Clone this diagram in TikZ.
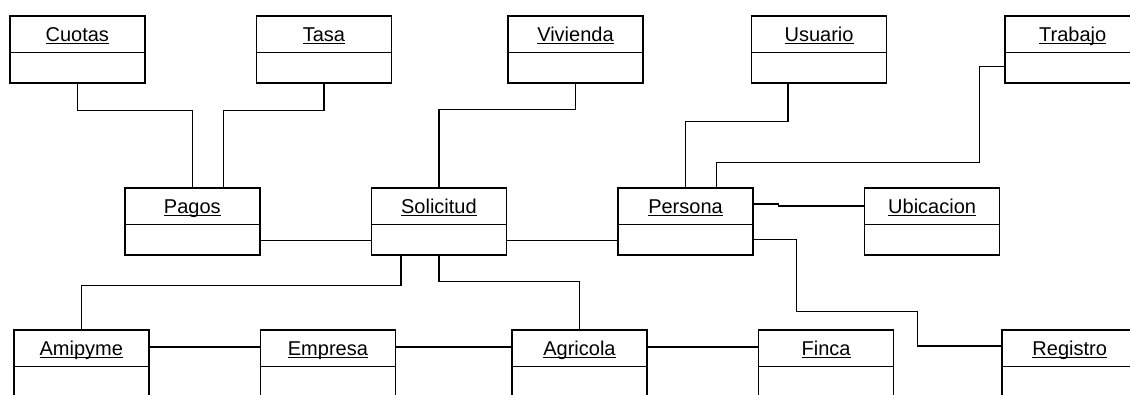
\documentclass[tikz,border=0pt]{standalone}
\usepackage{fontspec}
\setmainfont{Liberation Sans}
\usetikzlibrary{positioning,shapes.multipart}

\newcommand{\ulname}[1]{\setbox0\hbox{#1}\rlap{\rule[-2.8pt]{\wd0}{1pt}}\box0}
\newcommand{\ent}[1]{\rule[-10.5pt]{0pt}{35pt}\ulname{#1}\nodepart{two}\rule{0pt}{29pt}}

\begin{document}
\begin{tikzpicture}[
  x=1pt,y=1pt,
  node distance=10mm and 110pt,
  cls/.style={draw,line width=1.6pt,rectangle split,rectangle split parts=2,minimum width=135pt,inner ysep=0pt,font=\fontsize{20}{22}\selectfont},
  link/.style={line width=1.3pt}
]
\clip (0,0) rectangle (1130,-394);
% top row
\node[cls,anchor=north west] (cuotas) at (9,-15) {\ent{Cuotas}};
\node[cls,right=of cuotas] (tasa) {\ent{Tasa}};
\node[cls,right=115pt of tasa] (vivienda) {\ent{Vivienda}};
\node[cls,right=107pt of vivienda] (usuario) {\ent{Usuario}};
\node[cls,right=117pt of usuario] (trabajo) {\ent{Trabajo}};
% middle row
\node[cls,anchor=north west] (pagos) at (124,-187) {\ent{Pagos}};
\node[cls,right=of pagos] (solicitud) {\ent{Solicitud}};
\node[cls,right=of solicitud] (persona) {\ent{Persona}};
\node[cls,right=of persona] (ubicacion) {\ent{Ubicacion}};
% bottom row
\node[cls,anchor=north west] (amipyme) at (13,-329) {\ent{Amipyme}};
\node[cls,right=of amipyme] (empresa) {\ent{Empresa}};
\node[cls,right=115pt of empresa] (agricola) {\ent{Agricola}};
\node[cls,right=of agricola] (finca) {\ent{Finca}};
\node[cls,right=107pt of finca] (registro) {\ent{Registro}};

\draw[link] (cuotas.south) -- ++(0,-27) -| (pagos.north);
\draw[link] (tasa.south) -- ++(0,-27) -| ([xshift=31pt]pagos.north);
\draw[link] (vivienda.south) -- ++(0,-26) -| (solicitud.north);
\draw[link] ([xshift=-31pt]usuario.south) -- ++(0,-38) -| (persona.north);
\draw[link] ([yshift=17pt]trabajo.south west) -- ++(-25,0) -- ++(0,-96) -| ([xshift=31pt]persona.north);
\draw[link] ([yshift=15pt]pagos.south east) -- ([yshift=15pt]solicitud.south west);
\draw[link] ([yshift=15pt]solicitud.south east) -- ([yshift=15pt]persona.south west);
\draw[link] ([yshift=-17pt]persona.north east) -- ++(25,0) |- ([yshift=-19pt]ubicacion.north west);
\draw[link] ([yshift=16pt]persona.south east) -- ++(43,0) |- ++(121,-72) |- ([yshift=-17pt]registro.north west);
\draw[link] ([xshift=-38pt]solicitud.south) -- ++(0,-30) -| (amipyme.north);
\draw[link] (solicitud.south) -- ++(0,-26) -| (agricola.north);
\draw[link] ([yshift=-18pt]amipyme.north east) -- ([yshift=-18pt]empresa.north west);
\draw[link] ([yshift=-18pt]empresa.north east) -- ([yshift=-18pt]agricola.north west);
\draw[link] ([yshift=-18pt]agricola.north east) -- ([yshift=-18pt]finca.north west);
\end{tikzpicture}
\end{document}
